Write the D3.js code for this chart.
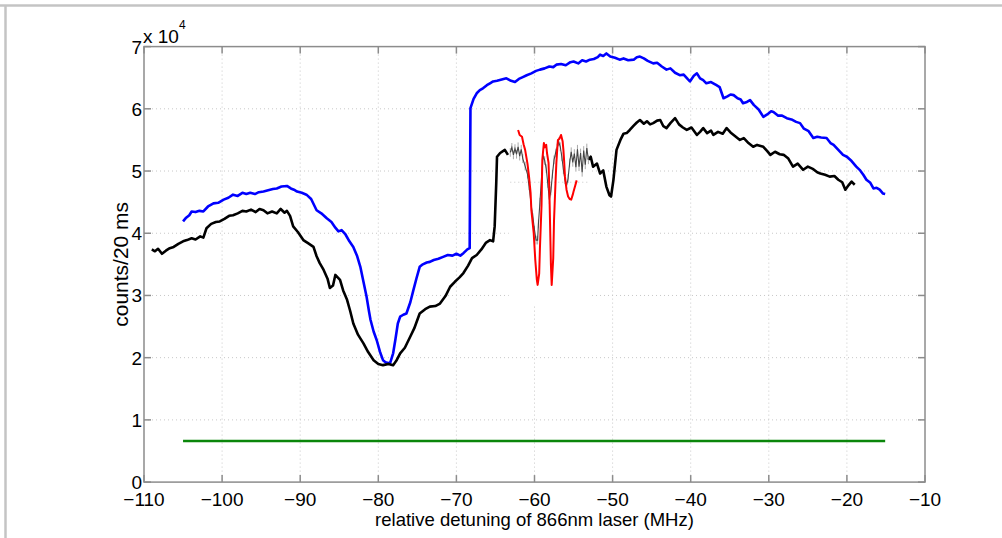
<!DOCTYPE html>
<html><head><meta charset="utf-8">
<script src="https://cdn.jsdelivr.net/npm/d3@7"></script>
<style>
html,body{margin:0;padding:0;background:#fff;}
svg{display:block;font-family:"Liberation Sans",Arial,sans-serif;}
</style></head>
<body><svg id="c" width="1002" height="538"></svg>
<script>
// ---------- data ----------
const xTicks = [-110,-100,-90,-80,-70,-60,-50,-40,-30,-20,-10];
const yTicks = [0,10000,20000,30000,40000,50000,60000,70000];
const yTickLabels = ["0","1","2","3","4","5","6","7"];

const blackX1 = [-109.0,-108.6,-108.2,-107.7,-107.2,-106.7,-106.2,-105.6,-105.0,-104.5,-103.9,-103.4,-102.8,-102.4,-102.0,-101.4,-100.8,-100.3,-99.7,-99.1,-98.6,-98.0,-97.4,-96.9,-96.3,-95.7,-95.2,-94.7,-94.2,-93.6,-93.0,-92.5,-92.0,-91.7,-91.3,-90.9,-90.3,-89.6,-89.0,-88.3,-87.9,-87.5,-87.0,-86.5,-86.2,-85.8,-85.5,-85.2,-84.9,-84.5,-84.0,-83.6,-83.2,-82.6,-81.9,-81.3,-80.6,-80.0,-79.4,-78.7,-78.1,-77.7,-77.2,-76.6,-75.9,-75.4,-74.7,-74.0,-73.4,-72.7,-72.1,-71.4,-70.8,-70.2,-69.6,-69.1,-68.5,-68.0,-67.4,-66.8,-66.2,-65.7,-65.3,-65.1,-64.9,-64.8,-64.4,-63.8,-63.4];
const blackY1 = [37400,37100,37500,36700,37200,37600,37800,38300,38700,38900,39200,39000,39500,39300,40800,41500,41800,41900,42300,42800,42900,43200,43600,43500,43800,43400,43900,43700,43200,43500,43200,43900,43300,43600,42800,41100,40200,38900,38400,37800,36300,35200,34100,32700,31200,31600,33300,32900,32500,30800,29300,27500,25500,23700,22300,20900,19600,19000,18800,19000,18800,19500,20700,21600,23400,24700,27100,27800,28200,28300,28700,29900,31400,32200,32900,33600,34800,36000,36500,37400,38500,38900,38700,41100,48000,52300,52900,53400,52600];

const blackX2 = [-53.1,-52.8,-52.5,-52.0,-51.6,-51.2,-50.8,-50.4,-50.2,-49.9,-49.5,-49.0,-48.6,-48.2,-47.8,-47.3,-46.9,-46.5,-46.0,-45.6,-45.2,-44.8,-44.3,-43.9,-43.5,-43.1,-42.6,-42.0,-41.5,-41.0,-40.5,-39.9,-39.2,-38.8,-38.4,-37.9,-37.4,-37.1,-36.5,-35.9,-35.4,-34.9,-34.3,-33.7,-33.2,-32.6,-32.0,-31.5,-30.7,-30.2,-29.8,-29.2,-28.6,-28.1,-27.5,-26.9,-26.3,-25.6,-25.0,-24.3,-23.8,-23.4,-22.8,-22.2,-21.6,-21.1,-20.6,-20.2,-19.8,-19.4,-19.0];
const blackY2 = [51800,52300,50700,51200,49600,50100,47500,46100,45900,48500,53400,55000,56000,56100,56600,57300,57800,58200,57600,58000,57500,57700,58100,58200,57200,56900,57700,58500,57500,57000,56600,57000,55800,56300,56900,56100,56500,55800,56300,56000,56900,56200,55600,55000,55300,54500,53900,54200,53900,53200,52600,53100,52700,52600,52000,50700,51200,50200,50700,50300,49800,49600,49400,49100,49200,48600,48200,47000,47700,48300,47800];

const blueX = [-105.0,-104.6,-104.2,-103.9,-103.4,-102.9,-102.4,-101.8,-101.1,-100.5,-99.8,-99.2,-98.6,-98.0,-97.4,-96.9,-96.4,-95.8,-95.3,-94.7,-94.1,-93.5,-93.0,-92.4,-91.7,-91.2,-90.8,-90.4,-89.8,-89.2,-88.6,-87.9,-87.3,-86.6,-86.0,-85.5,-85.1,-84.7,-84.2,-83.7,-83.2,-82.7,-82.3,-81.9,-81.5,-81.2,-81.0,-80.6,-80.2,-79.8,-79.4,-79.0,-78.5,-78.1,-77.8,-77.5,-77.2,-76.8,-76.4,-75.9,-75.5,-75.1,-74.7,-74.3,-73.8,-73.4,-72.9,-72.3,-71.7,-71.1,-70.5,-70.0,-69.5,-69.1,-68.6,-68.3,-68.2,-67.8,-67.4,-67.0,-66.6,-66.1,-65.7,-65.3,-64.8,-64.2,-63.6,-63.0,-62.5,-62.0,-61.5,-61.0,-60.4,-59.8,-59.3,-58.7,-58.1,-57.6,-57.2,-56.6,-56.0,-55.4,-55.0,-54.4,-53.9,-53.4,-52.9,-52.4,-51.9,-51.6,-51.2,-50.8,-50.3,-49.7,-49.1,-48.6,-48.0,-47.3,-46.9,-46.5,-46.0,-45.5,-44.8,-44.3,-43.7,-43.1,-42.6,-42.0,-41.4,-40.9,-40.4,-40.1,-39.6,-39.2,-38.8,-38.4,-38.0,-37.4,-36.7,-36.3,-35.8,-35.3,-34.9,-34.5,-34.0,-33.6,-33.3,-32.8,-32.4,-31.9,-31.3,-30.7,-30.2,-29.7,-29.4,-28.8,-28.3,-27.7,-27.1,-26.5,-26.0,-25.5,-24.9,-24.3,-23.8,-23.3,-22.6,-22.1,-21.7,-21.1,-20.5,-20.0,-19.4,-18.8,-18.3,-17.9,-17.5,-17.0,-16.6,-16.2,-15.8,-15.4,-15.1];
const blueY = [41900,42500,42900,43500,43400,43600,43500,44300,44800,44900,45400,45700,46200,46000,46500,46300,46500,46300,46600,46700,46900,47100,47200,47500,47600,47200,47000,46700,46500,46200,45500,43700,43200,42400,41800,40900,40300,40500,39800,38700,37800,36300,34600,32200,29800,27500,26100,24200,22800,21000,19600,19200,19100,20700,23000,25500,26600,26900,27100,28900,30900,32800,34600,35000,35300,35400,35700,35900,36200,36500,36400,36700,36400,36800,37400,37600,60100,61600,62500,63000,63300,63800,64100,64400,64500,64700,64900,64500,64300,64800,65100,65400,65700,66100,66300,66500,66800,66700,67100,67200,67000,67500,67600,67300,67800,67600,67900,68000,68300,68700,68500,68900,68400,68200,67900,68100,67800,67900,68300,68400,68100,67700,67300,67400,66800,66300,66500,65800,65400,65500,64800,64400,65300,65700,64900,64600,64100,64300,63800,63500,61700,62000,62300,62200,61700,61500,60900,61100,61400,60600,59900,58700,59100,59600,59500,58900,58900,58500,58300,57900,57700,56800,56400,55300,55500,55400,55300,54500,54200,53400,52600,52300,51600,50700,50100,49400,48600,48100,47200,47300,47000,46400,46300];

const redX = [-62.1,-61.9,-61.6,-61.4,-61.2,-60.9,-60.7,-60.5,-60.4,-60.1,-59.9,-59.7,-59.6,-59.4,-59.3,-59.1,-59.0,-58.8,-58.7,-58.5,-58.4,-58.2,-58.1,-58.0,-57.9,-57.8,-57.6,-57.5,-57.3,-57.2,-57.1,-57.0,-56.8,-56.6,-56.4,-56.3,-56.2,-56.1,-55.9,-55.7,-55.5,-55.3,-55.1,-55.0,-54.8,-54.6];
const redY = [56600,55800,55500,54300,53400,51200,49100,46500,43700,40000,35700,32500,31700,33500,37800,44500,51800,54500,53800,54200,52900,51300,47000,41100,35000,31700,36000,42100,48500,51300,53300,55000,55200,55800,54800,53400,51500,49100,47000,45900,45500,45400,46200,46700,47600,48500];

const thinX = [-63.1,-62.9,-62.7,-62.5,-62.3,-62.1,-61.9,-61.7,-61.5,-61.2,-60.9,-60.7,-60.4,-60.2,-60.0,-59.8,-59.6,-59.5,-59.3,-59.1,-58.9,-58.7,-58.5,-58.3,-58.1,-57.9,-57.7,-57.5,-57.3,-57.1,-56.9,-56.7,-56.5,-56.3,-56.1,-55.9,-55.7,-55.5,-55.3,-55.1,-54.9,-54.7,-54.5,-54.3,-54.1,-53.9,-53.7,-53.5,-53.3,-53.1];
const thinY = [53000,53800,52600,53600,52700,53900,52400,53500,52000,50800,49500,47600,44300,42500,40500,38900,38900,41500,45000,49000,52500,51700,50400,48000,45400,46800,49500,51800,52900,53700,54700,53900,52300,50200,48600,47600,48800,51300,53100,51400,52800,50600,53500,50700,52900,49800,53300,51000,53700,51800];

const greenX = [-105.0,-15.1];
const greenY = [6600,6600];

const insetBoxX = [-63.3,-52.9];
const insetBoxY = [28500,56200];
const insetGridY = 48200;

const xLabel = "relative detuning of 866nm laser (MHz)";
const yLabel = "counts/20 ms";

// ---------- drawing ----------
const svg = d3.select("#c");
const L = 144, R = 925, T = 46.6, B = 482.1;
const x = d3.scaleLinear().domain([-110,-10]).range([L,R]);
const y = d3.scaleLinear().domain([0,70000]).range([B,T]);

// page frame (top + left)
svg.append("line").attr("x1",0).attr("x2",1002).attr("y1",5.5).attr("y2",5.5).attr("stroke","#c4c4c4").attr("stroke-width",2.5);
svg.append("line").attr("x1",5.5).attr("x2",5.5).attr("y1",5).attr("y2",538).attr("stroke","#c4c4c4").attr("stroke-width",2.5);

// grid
const g = svg.append("g");
g.selectAll(".gx").data(xTicks.slice(1,-1)).enter().append("line")
  .attr("x1",d=>x(d)).attr("x2",d=>x(d)).attr("y1",T).attr("y2",B)
  .attr("stroke","#c8c8c8").attr("stroke-width",1).attr("stroke-dasharray","1,3");
g.selectAll(".gy").data(yTicks.slice(1,-1)).enter().append("line")
  .attr("x1",L).attr("x2",R).attr("y1",d=>y(d)).attr("y2",d=>y(d))
  .attr("stroke","#c8c8c8").attr("stroke-width",1).attr("stroke-dasharray","1,3");

// inset white background (pasted inset)
svg.append("rect").attr("x",x(insetBoxX[0])).attr("y",y(insetBoxY[1]))
  .attr("width",x(insetBoxX[1])-x(insetBoxX[0])).attr("height",y(insetBoxY[0])-y(insetBoxY[1]))
  .attr("fill","#fff");
svg.append("line").attr("x1",x(thinX[0])).attr("x2",x(thinX[thinX.length-1]))
  .attr("y1",y(insetGridY)).attr("y2",y(insetGridY))
  .attr("stroke","#c8c8c8").attr("stroke-dasharray","1,3");

// axes box
const axG = svg.append("g");
axG.append("rect").attr("x",L).attr("y",T).attr("width",R-L).attr("height",B-T)
  .attr("fill","none").attr("stroke","#8c8c8c").attr("stroke-width",1.5);
const tl = 7;
xTicks.forEach(t=>{
  axG.append("line").attr("x1",x(t)).attr("x2",x(t)).attr("y1",B).attr("y2",B-tl).attr("stroke","#8c8c8c").attr("stroke-width",1.5);
  axG.append("line").attr("x1",x(t)).attr("x2",x(t)).attr("y1",T).attr("y2",T+tl).attr("stroke","#8c8c8c").attr("stroke-width",1.5);
});
yTicks.forEach(t=>{
  axG.append("line").attr("x1",L).attr("x2",L+tl).attr("y1",y(t)).attr("y2",y(t)).attr("stroke","#8c8c8c").attr("stroke-width",1.5);
  axG.append("line").attr("x1",R).attr("x2",R-tl).attr("y1",y(t)).attr("y2",y(t)).attr("stroke","#8c8c8c").attr("stroke-width",1.5);
});

// tick labels
const fmt = d3.format("d");
svg.selectAll(".xl").data(xTicks).enter().append("text")
  .attr("x",d=>x(d)).attr("y",505.5).attr("text-anchor","middle")
  .attr("font-size",19).attr("fill","#000").text(d=>fmt(d));
svg.selectAll(".yl").data(yTicks).enter().append("text")
  .attr("x",L-2).attr("y",d=>y(d)+7).attr("text-anchor","end")
  .attr("font-size",19).attr("fill","#000").text((d,i)=>yTickLabels[i]);
const ex = svg.append("text").attr("x",L-1).attr("y",43).attr("font-size",19).attr("fill","#000");
ex.append("tspan").text("x 10");
ex.append("tspan").attr("font-size",12).attr("dy",-14).text("4");

// axis labels
svg.append("text").attr("x",(L+R)/2).attr("y",526).attr("text-anchor","middle")
  .attr("font-size",18.5).attr("fill","#000").text(xLabel);
svg.append("text").attr("transform",`translate(128,${(T+B)/2}) rotate(-90)`)
  .attr("text-anchor","middle").attr("font-size",21).attr("fill","#000").text(yLabel);

// lines
const line = d3.line().x(d=>x(d[0])).y(d=>y(d[1]));
const zip = (a,b)=>a.map((v,i)=>[v,b[i]]);

svg.append("path").datum(zip(greenX,greenY)).attr("d",line)
  .attr("fill","none").attr("stroke","#0a860a").attr("stroke-width",2.6);
svg.append("path").datum(zip(blueX,blueY)).attr("d",line)
  .attr("fill","none").attr("stroke","#0000ff").attr("stroke-width",2.6).attr("stroke-linejoin","round");
svg.append("path").datum(zip(blackX1,blackY1)).attr("d",line)
  .attr("fill","none").attr("stroke","#000").attr("stroke-width",2.6).attr("stroke-linejoin","round");
svg.append("path").datum(zip(blackX2,blackY2)).attr("d",line)
  .attr("fill","none").attr("stroke","#000").attr("stroke-width",2.6).attr("stroke-linejoin","round");

const thin = zip(thinX,thinY);
svg.selectAll(".eb").data(thin).enter().append("line")
  .attr("x1",d=>x(d[0])).attr("x2",d=>x(d[0]))
  .attr("y1",d=>y(d[1]-700)).attr("y2",d=>y(d[1]+700))
  .attr("stroke","#aaa").attr("stroke-width",1);
svg.append("path").datum(thin).attr("d",line)
  .attr("fill","none").attr("stroke","#444").attr("stroke-width",1.1);
svg.append("path").datum(zip(redX,redY)).attr("d",line)
  .attr("fill","none").attr("stroke","#ff0000").attr("stroke-width",2).attr("stroke-linejoin","round");
</script></body></html>
